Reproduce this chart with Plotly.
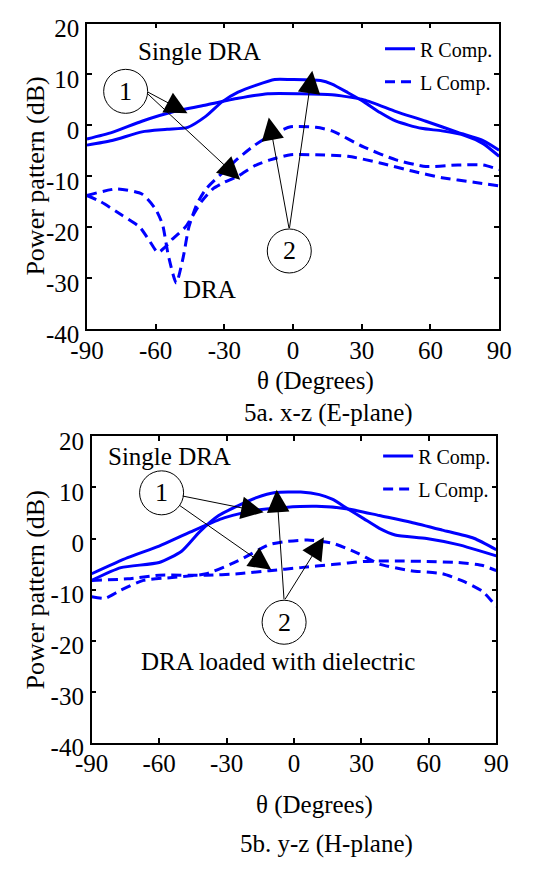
import plotly.graph_objects as go

# ---------------- data: 5a x-z (E-plane) ----------------
ea_r1_x = [-90, -79, -66, -55, -46, -38, -31, -24, -16, -8, -1, 12, 17, 24, 31, 38, 45, 56, 65, 75, 83, 90]
ea_r1_y = [-3.9, -3.0, -1.3, -0.8, -0.4, 1.8, 4.6, 6.5, 7.9, 9.0, 9.0, 8.8, 8.1, 6.4, 4.6, 2.5, 0.8, -0.6, -1.1, -2.0, -3.6, -6.1]
ea_r2_x = [-90, -79, -66, -52, -38, -24, -11, 3, 17, 31, 45, 58, 72, 83, 90]
ea_r2_y = [-2.7, -1.4, 0.8, 2.7, 4.0, 5.3, 6.2, 6.2, 6.0, 5.0, 2.7, 0.8, -1.4, -3.0, -4.9]
ea_l1_x = [-90, -77, -66, -60, -57, -54.5, -51, -48, -45.5, -42, -38, -30, -24, -17, -10, -1, 10, 17, 31, 45, 58, 72, 83, 90]
ea_l1_y = [-13.8, -12.5, -13.5, -16.5, -19.5, -25.5, -31, -26, -20, -15.5, -12.5, -9, -6.5, -4, -2, -0.3, -0.4, -1.1, -4.3, -6.8, -8.1, -7.8, -7.8, -8.7]
ea_l2_x = [-90, -84, -75, -67, -63, -59, -56, -53, -47, -40, -35, -30, -24, -17, -10, -1, 10, 24, 38, 52, 65, 79, 90]
ea_l2_y = [-13.8, -15, -17.6, -20, -22.5, -25, -24, -22.5, -20, -15, -12.5, -11.2, -10, -8, -6.8, -5.8, -5.8, -6.1, -7.4, -9.0, -10.3, -11.2, -11.9]

# ---------------- data: 5b y-z (H-plane) ----------------
hb_r1_x = [-90, -77, -60, -50, -42, -33.5, -25, -16.7, -8.3, 3, 11.3, 17, 24, 31, 38, 45, 59, 73, 90]
hb_r1_y = [-8.2, -5.7, -4.7, -2.5, 1.3, 4.5, 6.4, 8.0, 9.0, 9.1, 8.6, 7.7, 5.8, 3.9, 2.0, 0.7, 0.0, -1.2, -3.4]
hb_r2_x = [-90, -74, -60, -46, -32, -18, -4, 10, 24, 38, 52, 66, 80, 90]
hb_r2_y = [-6.9, -3.75, -1.5, 1.3, 3.9, 5.5, 6.1, 6.3, 5.8, 4.5, 3.2, 1.65, 0.05, -2.2]
hb_l1_x = [-90, -84, -77, -67, -53, -39, -25, -11, -4, 6, 17, 28, 38, 52, 66, 76, 84, 90]
hb_l1_y = [-11.4, -11.7, -10.1, -8.2, -7.6, -6.9, -4.4, -1.2, -0.6, -0.3, -0.9, -2.8, -5.0, -6.3, -6.9, -8.5, -10.4, -13.3]
hb_l2_x = [-90, -74, -60, -39, -25, -11, 3, 17, 31, 45, 59, 73, 84, 90]
hb_l2_y = [-8.2, -7.9, -7.2, -7.2, -6.9, -6.3, -5.7, -5.1, -4.5, -4.4, -4.5, -4.7, -5.3, -6.3]

x_ticks = [-90, -60, -30, 0, 30, 60, 90]
x_ticktext = ["-90", "-60", "-30", "0", "30", "60", "90"]
y_ticks = [-40, -30, -20, -10, 0, 10, 20]
y_ticktext = ["-40", "-30", "-20", "-10", "0", "10", "20"]

W, H = 549, 879
FONT = "Liberation Serif"
BLUE = "#0000FF"
DASH = "10px,6px"

fig = go.Figure()

def add(x, y, xa, ya, dash, name, show, leg):
    fig.add_trace(go.Scatter(
        x=x, y=y, mode="lines", xaxis=xa, yaxis=ya, name=name,
        line=dict(color=BLUE, width=3, dash=dash, shape="spline", smoothing=0.6),
        showlegend=show, legend=leg, legendgroup=name + leg))

add(ea_r1_x, ea_r1_y, "x", "y", "solid", "R Comp.", True, "legend")
add(ea_r2_x, ea_r2_y, "x", "y", "solid", "R Comp.", False, "legend")
add(ea_l1_x, ea_l1_y, "x", "y", DASH, "L Comp.", True, "legend")
add(ea_l2_x, ea_l2_y, "x", "y", DASH, "L Comp.", False, "legend")
add(hb_r1_x, hb_r1_y, "x2", "y2", "solid", "R Comp.", True, "legend2")
add(hb_r2_x, hb_r2_y, "x2", "y2", "solid", "R Comp.", False, "legend2")
add(hb_l1_x, hb_l1_y, "x2", "y2", DASH, "L Comp.", True, "legend2")
add(hb_l2_x, hb_l2_y, "x2", "y2", DASH, "L Comp.", False, "legend2")

def px(v):
    return v / W

def py(v):
    return 1 - v / H

axis_common = dict(
    showgrid=False, zeroline=False, showline=True, linecolor="black",
    linewidth=1.5, mirror="ticks", ticks="inside", ticklen=5, tickwidth=1.5,
    tickcolor="black", tickfont=dict(family=FONT, size=25, color="black"),
)

xa = dict(axis_common, range=[-90, 90], tickmode="array", tickvals=x_ticks,
          ticktext=x_ticktext, ticklabelstandoff=-2)
ya = dict(axis_common, range=[-40, 20], tickmode="array", tickvals=y_ticks,
          ticktext=y_ticktext, ticklabelstandoff=1, ticklabelshift=5)

fig.update_layout(
    width=W, height=H, margin=dict(l=0, r=0, t=0, b=0),
    paper_bgcolor="white", plot_bgcolor="white",
    font=dict(family=FONT, color="black"),
    xaxis=dict(xa, domain=[px(74), px(510)], anchor="y"),
    yaxis=dict(ya, domain=[py(331), py(16)], anchor="x"),
    xaxis2=dict(xa, domain=[px(79), px(507)], anchor="y2"),
    yaxis2=dict(ya, domain=[py(758), py(442)], anchor="x2"),
    legend=dict(x=px(384), y=py(22), xanchor="left", yanchor="top",
                font=dict(family=FONT, size=20, color="black"),
                bgcolor="rgba(0,0,0,0)", tracegroupgap=4, traceorder="grouped"),
    legend2=dict(x=px(382), y=py(442), xanchor="left", yanchor="top",
                 font=dict(family=FONT, size=20, color="black"),
                 bgcolor="rgba(0,0,0,0)", tracegroupgap=4, traceorder="grouped"),
)

ann = []
def text(x, y, s, xr, yr, size=25, angle=0):
    ann.append(dict(x=x, y=y, xref=xr, yref=yr, text=s, showarrow=False,
                    font=dict(family=FONT, size=size, color="black"),
                    textangle=angle, xanchor="center", yanchor="middle"))

def arrow(x0, y0, x1, y1, xr, yr):
    ann.append(dict(x=x1, y=y1, ax=x0, ay=y0, xref=xr, yref=yr, axref=xr, ayref=yr,
                    text="", showarrow=True, arrowhead=2, arrowsize=4.5,
                    arrowwidth=1, arrowcolor="black"))

# axis titles and captions
text(px(20), py(173), "Power pattern (dB)", "paper", "paper", 26, -90)
text(px(316), py(385), "θ (Degrees)", "paper", "paper", 25)
text(px(329), py(418), "5a. x-z (E-plane)", "paper", "paper", 25)
text(px(20), py(600), "Power pattern (dB)", "paper", "paper", 26, -90)
text(px(315), py(822), "θ (Degrees)", "paper", "paper", 25)
text(px(327), py(862), "5b. y-z (H-plane)", "paper", "paper", 25)

# top plot labels
text(-40.9, 14.5, "Single DRA", "x", "y")
text(-36.3, -32.2, "DRA", "x", "y")
text(-73.1, 6.67, "1", "x", "y", 26)
text(-1.65, -24.7, "2", "x", "y", 26)
arrow(-64.0, 6.67, -46.1, 2.38, "x", "y")
arrow(-64.0, 6.4, -23.1, -10.7, "x", "y")
arrow(-1.65, -20.5, -10.6, 1.52, "x", "y")
arrow(-1.65, -20.5, 8.4, 10.7, "x", "y")

# bottom plot labels
text(-55.5, 16.0, "Single DRA", "x2", "y2")
text(-7.2, -24.0, "DRA loaded with dielectric", "x2", "y2")
text(-58.9, 8.95, "1", "x2", "y2", 26)
text(-4.4, -16.4, "2", "x2", "y2", 26)
arrow(-50.2, 8.38, -13.5, 5.14, "x2", "y2")
arrow(-51.5, 6.67, -10.1, -6.1, "x2", "y2")
arrow(-4.4, -12.2, -7.7, 9.56, "x2", "y2")
arrow(-4.4, -12.2, 13.3, 0.25, "x2", "y2")

fig.update_layout(annotations=ann)

shapes = []
for cx, cy, xr, yr in [(-73.1, 6.67, "x", "y"), (-1.65, -24.7, "x", "y"),
                       (-58.9, 8.95, "x2", "y2"), (-4.4, -16.4, "x2", "y2")]:
    shapes.append(dict(type="circle", xref=xr, yref=yr, xsizemode="pixel", ysizemode="pixel",
                       xanchor=cx, yanchor=cy, x0=-22, x1=22, y0=-22, y1=22,
                       line=dict(color="black", width=1)))
fig.update_layout(shapes=shapes)

fig.write_html("out.html")
